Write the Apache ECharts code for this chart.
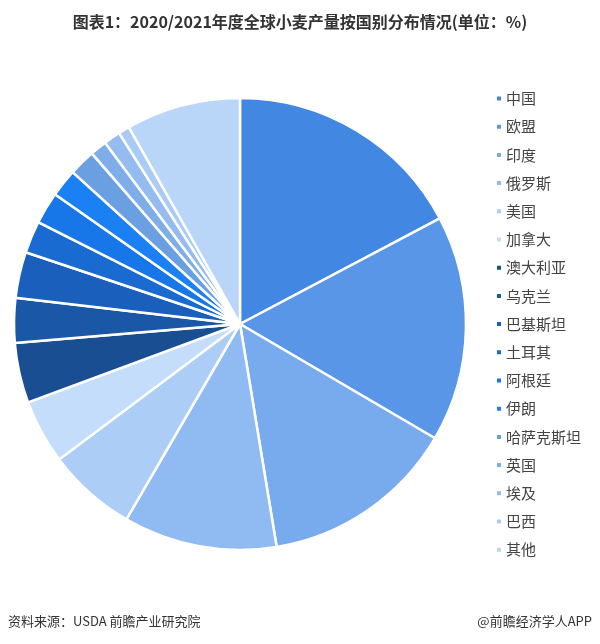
<!DOCTYPE html>
<html>
<head>
<meta charset="utf-8">
<script src="https://cdn.jsdelivr.net/npm/echarts@6/dist/echarts.min.js"></script>
<style>
  html, body { margin: 0; padding: 0; background: #fff; }
  #main { width: 600px; height: 644px; }
</style>
</head>
<body>
<div id="main"></div>
<script>
// 国家
var countries = ['中国', '欧盟', '印度', '俄罗斯', '美国', '加拿大', '澳大利亚', '乌克兰',
  '巴基斯坦', '土耳其', '阿根廷', '伊朗', '哈萨克斯坦', '英国', '埃及', '巴西', '其他'];
// 占比 (%)
var shares = [17.3, 16.2, 14.0, 11.0, 6.4, 4.6, 4.3, 3.2, 3.3, 2.3, 2.3, 2.0, 1.9, 1.2, 1.2, 0.8, 8.2];
// 颜色
var colors = ['#4287e1', '#5a96e8', '#78aaee', '#8fbaf2', '#abcdf6', '#c3ddfa', '#1a4e92',
  '#1b57a7', '#1a5fbb', '#196bd2', '#1877e8', '#1b80f4', '#6aa0e2', '#7eadea', '#94bcf0',
  '#a9cbf5', '#b9d5f7'];

var myChart = echarts.init(document.getElementById('main'));

var pieData = countries.map(function (name, i) {
  return { name: name, value: shares[i], itemStyle: { color: colors[i] } };
});

var option = {
  backgroundColor: '#fff',
  textStyle: { fontFamily: 'Noto Sans CJK SC' },
  title: {
    text: '图表1：2020/2021年度全球小麦产量按国别分布情况(单位：%)',
    left: 'center',
    top: 9,
    textStyle: { fontSize: 16, fontWeight: 'bold', color: '#333' }
  },
  graphic: [
    {
      type: 'text', left: 8, top: 615,
      style: { text: '资料来源：USDA 前瞻产业研究院', fontSize: 13, fill: '#333', fontFamily: 'Noto Sans CJK SC' }
    },
    {
      type: 'text', right: 8, top: 615,
      style: { text: '@前瞻经济学人APP', fontSize: 13, fill: '#333', fontFamily: 'Noto Sans CJK SC' }
    }
  ],
  legend: {
    orient: 'vertical',
    left: 490,
    top: 86,
    icon: 'rect',
    itemWidth: 6,
    itemHeight: 6,
    itemGap: 13.2,
    textStyle: { fontSize: 15, color: '#444', padding: [0, 0, 0, -1] },
    data: countries
  },
  series: [
    {
      type: 'pie',
      center: [240, 324],
      radius: 226,
      startAngle: 90,
      clockwise: true,
      label: { show: false },
      labelLine: { show: false },
      itemStyle: { borderColor: '#fff', borderWidth: 2.5 },
      emphasis: { scale: false },
      data: pieData
    }
  ]
};

myChart.setOption(option);
</script>
</body>
</html>
